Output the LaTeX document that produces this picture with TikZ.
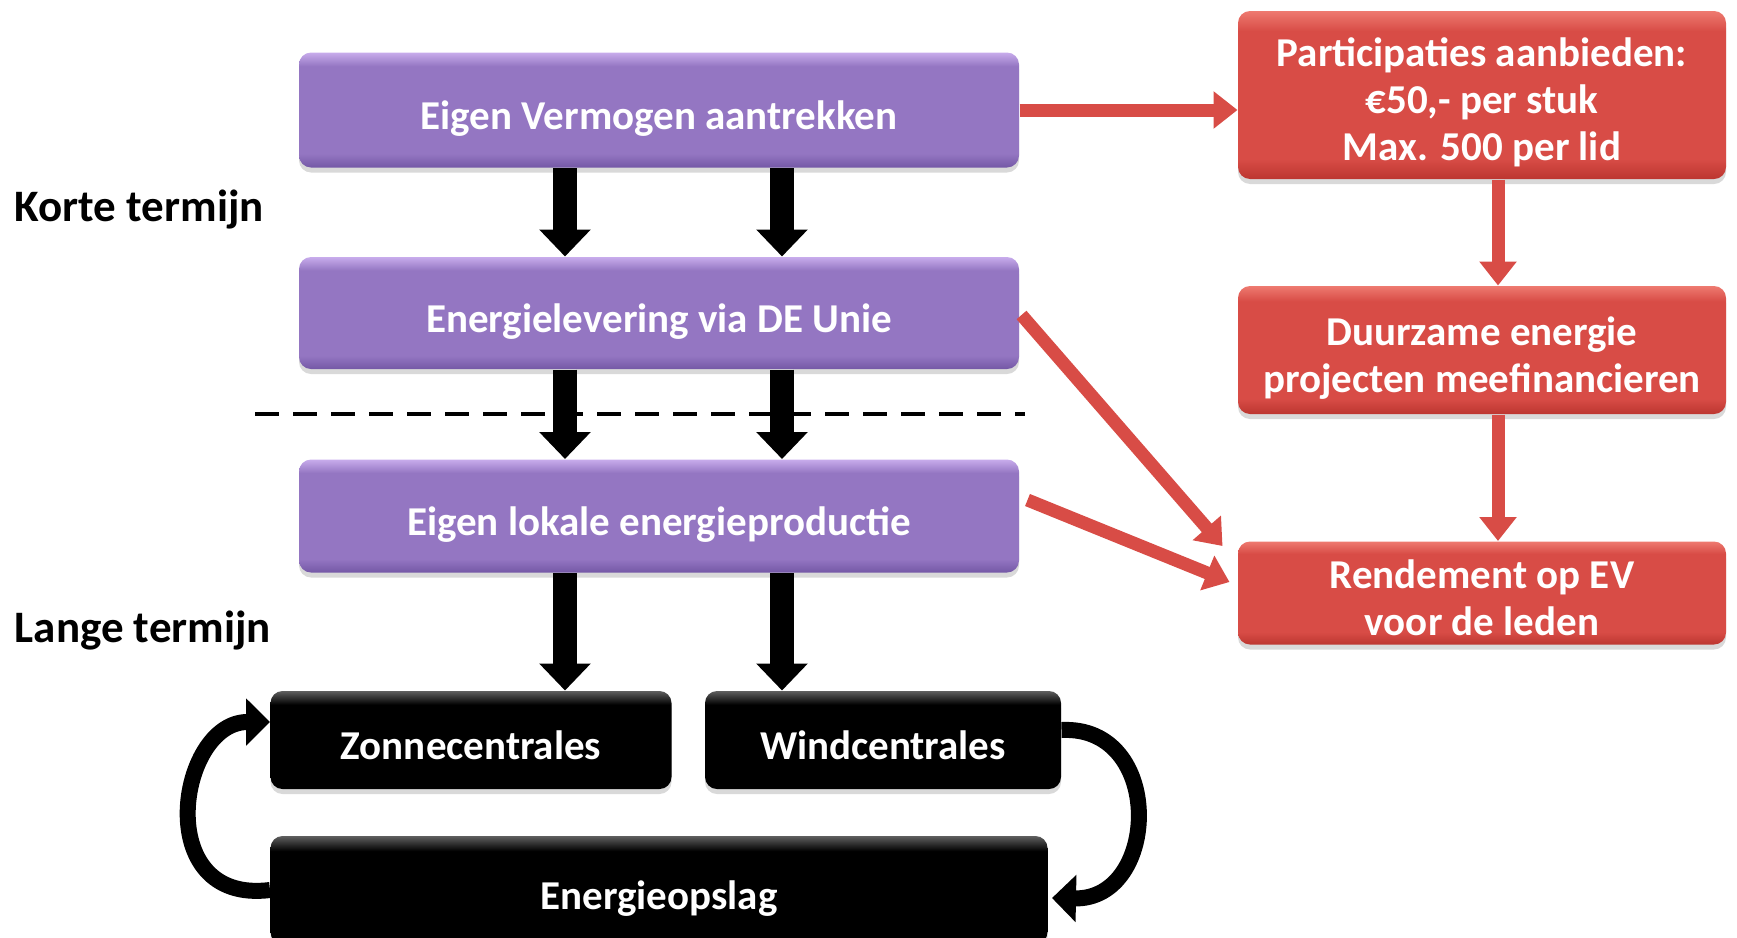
\documentclass[tikz,border=0pt]{standalone}
\usepackage{fontspec}
\setmainfont{Carlito}
\usetikzlibrary{arrows.meta,shadows,calc,positioning}

\definecolor{lila}{RGB}{148,118,194}
\definecolor{lilahi}{RGB}{200,172,236}
\definecolor{lilalo}{RGB}{116,88,166}
\definecolor{rood}{RGB}{216,76,70}
\definecolor{roodhi}{RGB}{238,122,112}
\definecolor{roodlo}{RGB}{188,54,48}
\definecolor{zwarthi}{RGB}{95,95,95}

\pgfdeclareverticalshading{paarsvlak}{100bp}{color(0bp)=(lilalo); color(25bp)=(lilalo); color(31bp)=(lila); color(69bp)=(lila); color(75bp)=(lilahi); color(100bp)=(lilahi)}
\pgfdeclareverticalshading{roodvlak}{100bp}{color(0bp)=(roodlo); color(25bp)=(roodlo); color(31bp)=(rood); color(69bp)=(rood); color(75bp)=(roodhi); color(100bp)=(roodhi)}
\pgfdeclareverticalshading{zwartvlak}{100bp}{color(0bp)=(black); color(25bp)=(black); color(68bp)=(black); color(75bp)=(zwarthi); color(100bp)=(zwarthi)}

\begin{document}
\begin{tikzpicture}
[x=1pt, y=-1pt, font=\fontsize{41}{47}\selectfont\bfseries, line width=1pt,
stap/.style={rectangle, rounded corners=12pt, inner sep=0pt, text=white, align=center, text depth=0pt,
  execute at begin node=\rule{0pt}{38pt},
  drop shadow={shadow xshift=0pt, shadow yshift=-5pt, opacity=.3}},
paars/.style={stap, shading=paarsvlak, minimum width=720pt},
roodvak/.style={stap, shading=roodvlak, minimum width=488pt},
zwart/.style={stap, shading=zwartvlak, minimum height=98pt},
termijn/.style={anchor=west, font=\fontsize{45}{50}\selectfont\bfseries},
blkpijl/.style={line width=24pt, -{Triangle[width=50pt,length=27pt]}},
roodlijn/.style={draw=rood, line width=13pt, -{Triangle[width=36pt,length=24pt]}},
boog/.style={line width=16pt, -{Triangle[width=46pt,length=24pt]}}]

\useasboundingbox (0,0) rectangle (1737,937);
\clip (0,0) rectangle (1737,937);

\node[paars, minimum height=115pt] (evm) at (659,110) {Eigen Vermogen aantrekken};
\node[paars, minimum height=112pt] (evl) at (659,313) {Energielevering via DE Unie};
\node[paars, minimum height=113pt] (evp) at (659,516) {Eigen lokale energieproductie};

\node[zwart, minimum width=401pt] (zon) at (471,740) {Zonnecentrales};
\node[zwart, minimum width=356pt] (wind) at (883,740) {Windcentrales};
\node[zwart, minimum width=777pt, minimum height=108pt] (opslag) at (659,890) {Energieopslag};

\node[roodvak, minimum height=168pt] (part) at (1482,95) {\rule{0pt}{37pt}Participaties aanbieden:\\€50,- per stuk\\Max. 500 per lid};
\node[roodvak, minimum height=128pt] (duur) at (1482,350) {\rule{0pt}{37pt}Duurzame energie\\projecten meefinancieren};
\node[roodvak, minimum height=103pt] (rend) at (1482,593) {\rule{0pt}{37pt}Rendement op EV\\voor de leden};

\node[termijn] (korte) at (11,210) {Korte termijn};
\node[termijn] (lange) at (11,631) {Lange termijn};

\draw[line width=4pt, dash pattern=on 24pt off 14pt] (255,414) -- (1025,414);

\foreach \dx in {-94,123} {
  \draw[blkpijl] ($(evm.south)+(\dx,0)$) -- ($(evl.north)+(\dx,0)$);
  \draw[blkpijl] ($(evl.south)+(\dx,0)$) -- ($(evp.north)+(\dx,0)$);
}
\draw[blkpijl] ($(evp.south)+(-94,0)$) -- ($(zon.north)+(94,0)$);
\draw[blkpijl] ($(evp.south)+(123,0)$) -- ($(wind.north)+(-101,0)$);

\draw[roodlijn] (evm.east) -- (part.west |- evm.east);
\draw[roodlijn] ($(part.south)+(16,0)$) -- ($(duur.north)+(16,0)$);
\draw[roodlijn] ($(duur.south)+(16,0)$) -- ($(rend.north)+(16,0)$);
\draw[roodlijn] ($(evl.east)+(2,2)$) -- ($(rend.north west)+(-15,5)$);
\draw[roodlijn] ($(evp.east)+(8,-16)$) -- ($(rend.west)+(-8,-11)$);

\draw[boog] (opslag.west) .. controls (150,905) and (178,722) .. ($(zon.west)+(0,-18)$);
\draw[boog] ($(wind.east)+(0,-10)$) .. controls (1165,725) and (1160,900) .. ($(opslag.east)+(4,8)$);
\end{tikzpicture}
\end{document}
